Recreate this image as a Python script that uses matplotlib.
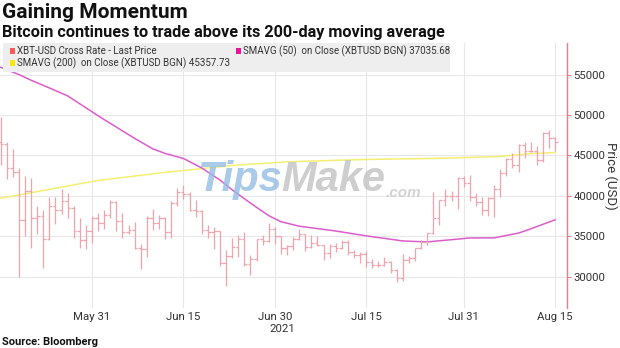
import pandas as pd
import matplotlib
matplotlib.use("Agg")
import matplotlib.pyplot as plt
import matplotlib.dates as mdates
from matplotlib.patches import Rectangle

plt.rcParams['font.family'] = ['Roboto', 'DejaVu Sans']

# daily bars, May 16 - Aug 15 2021
dates = pd.date_range("2021-05-16", "2021-08-15", freq="D")

opens = [46700, 46400, 43500, 42900, 37000, 40600, 37300, 37500, 34700, 38800,
         38300, 39300, 38500, 35700, 34600, 35700, 37300, 36700, 37600, 39200,
         36900, 35500, 35800, 33600, 33400, 37300, 36700, 37300, 35500, 39100,
         40500, 40200, 38300, 38100, 35800, 35500, 35600, 31700, 32500, 33700,
         34700, 31600, 32200, 34700, 34400, 35900, 35000, 33500, 33800, 34700,
         35300, 33700, 34200, 33900, 32900, 33800, 33500, 34300, 33100, 32700,
         32800, 31800, 31400, 31500, 31800, 30800, 29800, 32100, 32300, 33600,
         34300, 35400, 37300, 39500, 40000, 40000, 42200, 41600, 39900, 39200,
         38200, 39700, 40900, 42800, 44600, 43800, 46300, 45600, 45600, 44400,
         47800, 47100]
highs = [49800, 46600, 45800, 43500, 42500, 42200, 38800, 38200, 39800, 39800,
         40800, 40400, 38800, 37300, 36400, 37500, 37900, 38200, 39500, 39300,
         37900, 36400, 36800, 34000, 37500, 38400, 37600, 37400, 39300, 41000,
         41300, 40500, 39500, 38200, 36400, 36100, 35700, 33300, 34800, 35200,
         35500, 32700, 34700, 35200, 36600, 36100, 35000, 33900, 34900, 35900,
         35300, 35100, 35000, 33900, 34100, 34200, 34600, 34600, 33300, 33100,
         33200, 32200, 31900, 32400, 31900, 31000, 32800, 32600, 33600, 34500,
         35400, 40500, 39500, 40900, 40600, 42300, 42400, 42600, 40400, 39800,
         39900, 41400, 43300, 44700, 45300, 46400, 46700, 46700, 46200, 47900,
         48100, 47300]
lows = [43800, 42100, 42300, 30000, 35000, 33500, 35300, 31100, 34500, 36500,
        37800, 37200, 34800, 33600, 33400, 34200, 35700, 35900, 37200, 35600,
        34800, 35300, 33400, 31000, 32400, 35800, 35900, 34700, 34800, 38800,
        39600, 38100, 37400, 35300, 34800, 33400, 31300, 28800, 32300, 32400,
        31300, 30200, 32000, 33900, 34300, 34000, 32800, 32700, 33300, 34500,
        33200, 33600, 33800, 32100, 32300, 33000, 33400, 32700, 32300, 31700,
        31200, 31100, 31200, 31300, 30500, 29300, 29500, 31700, 32000, 33400,
        33900, 35300, 36400, 38800, 39300, 38400, 41100, 39400, 38700, 37600,
        37500, 37400, 39900, 42500, 43500, 42900, 44700, 45400, 43800, 44200,
        45900, 45600]
closes = [46400, 43500, 42900, 37000, 40600, 37300, 37500, 34700, 38800, 38300,
          39300, 38500, 35700, 34600, 35700, 37300, 36700, 37600, 39200, 36900,
          35500, 35800, 33600, 33400, 37300, 36700, 37300, 35500, 39100, 40500,
          40200, 38300, 38100, 35800, 35500, 35600, 31700, 32500, 33700, 34700,
          31600, 32200, 34700, 34400, 35900, 35000, 33500, 33800, 34700, 35300,
          33700, 34200, 33900, 32900, 33800, 33500, 34300, 33100, 32700, 32800,
          31800, 31400, 31500, 31800, 30800, 29800, 32100, 32300, 33600, 34300,
          35400, 37300, 39500, 40000, 40000, 42200, 41600, 39900, 39200, 38200,
          39700, 40900, 42800, 44600, 43800, 46300, 45600, 45600, 44400, 47800,
          47100, 46700]

sma50 = [55900, 55600, 55300, 55000, 54650, 54300, 53980, 53660, 53340, 53020,
         52690, 52360, 51870, 51380, 50890, 50400, 49900, 49430, 48970, 48500,
         48030, 47570, 47100, 46670, 46230, 45800, 45520, 45250, 45040, 44830,
         44620, 44230, 43840, 43450, 42950, 42450, 41950, 41350, 40750, 40200,
         39650, 39100, 38580, 38070, 37550, 37180, 36800, 36620, 36430, 36250,
         36150, 36050, 35950, 35850, 35750, 35650, 35530, 35410, 35290, 35170,
         35050, 34950, 34840, 34740, 34630, 34530, 34420, 34390, 34360, 34330,
         34300, 34370, 34440, 34510, 34580, 34650, 34720, 34790, 34790, 34795,
         34800, 34800, 34950, 35100, 35250, 35400, 35650, 35920, 36200, 36480,
         36760, 37036]
sma200 = [39700, 39840, 39980, 40110, 40250, 40390, 40520, 40660, 40800, 40940,
          41080, 41210, 41350, 41490, 41630, 41760, 41900, 41990, 42080, 42170,
          42260, 42350, 42450, 42540, 42630, 42720, 42810, 42900, 42980, 43060,
          43130, 43210, 43290, 43370, 43450, 43530, 43600, 43680, 43760, 43810,
          43860, 43910, 43960, 44000, 44050, 44100, 44150, 44200, 44230, 44250,
          44270, 44300, 44320, 44340, 44370, 44390, 44410, 44430, 44460, 44480,
          44500, 44510, 44520, 44530, 44540, 44560, 44570, 44580, 44590, 44600,
          44610, 44620, 44640, 44660, 44680, 44710, 44730, 44750, 44770, 44790,
          44820, 44840, 44860, 44930, 45010, 45080, 45160, 45230, 45260, 45290,
          45330, 45358]

tick_dates = ["2021-05-31", "2021-06-15", "2021-06-30", "2021-07-15", "2021-07-31", "2021-08-15"]
tick_labels = ["May 31", "Jun 15", "Jun 30", "Jul 15", "Jul 31", "Aug 15"]
y_ticks = [30000, 35000, 40000, 45000, 50000, 55000]

bar_color = '#f2a3ac'
sma50_color = '#dd5ccb'
sma200_color = '#f4ef72'
spine_color = '#f07a8a'

W, H = 620, 348
fig = plt.figure(figsize=(W / 100, H / 100), dpi=100)
ax = fig.add_axes([0, 1 - 308 / H, 567 / W, (308 - 43) / H])

x = mdates.date2num(dates)
ax.plot(x, sma200, color=sma200_color, lw=1.1, zorder=2)
ax.plot(x, sma50, color=sma50_color, lw=1.1, zorder=2)
ax.vlines(x, lows, highs, color=bar_color, lw=0.9, zorder=3)
ax.hlines(opens, x - 0.45, x, color=bar_color, lw=0.9, zorder=3)
ax.hlines(closes, x, x + 0.45, color=bar_color, lw=0.9, zorder=3)

ax.set_xlim(x[0] - 0.1, x[-1] + 1.95)
ax.set_ylim(26130, 58900)

ax.set_xticks(mdates.date2num(pd.to_datetime(tick_dates)))
ax.set_xticklabels(tick_labels)
ax.set_yticks(y_ticks)
ax.set_yticklabels([str(v) for v in y_ticks])
ax.yaxis.tick_right()

ax.grid(True, color='#e8e8e8', lw=0.8, zorder=0)
ax.set_axisbelow(True)
ax.tick_params(axis='x', length=0, labelsize=8.2, colors='#333333', pad=3)
ax.tick_params(axis='y', length=3, color=spine_color, labelsize=8.2,
               labelcolor='#333333', pad=1.5)
for s in ['top', 'left', 'bottom']:
    ax.spines[s].set_visible(False)
ax.spines['right'].set_color(spine_color)
ax.spines['right'].set_linewidth(1.0)

ax.text(mdates.date2num(pd.Timestamp("2021-06-30")) + 1.3, -0.079, '2021',
        transform=ax.get_xaxis_transform(), ha='center', va='center',
        fontsize=8.2, color='#333333')

def px(xp, yp):
    return xp / W, 1 - yp / H

# y axis title on the right
fig.text(*px(611, 176), 'Price (USD)', rotation=270, fontsize=9.5, color='#333333',
         ha='center', va='center')

# watermark
wm = fig.text(197 / W, 1 - 191 / H, 'Tips', color='#94bde4', fontsize=30, fontweight='bold',
              style='italic', alpha=0.8, family=['Liberation Sans'], va='baseline', zorder=5)
wm2 = ax.annotate('Make', xy=(1, 0), xycoords=wm, ha='left', va='bottom', color='#c2c2c2',
                  fontsize=30, fontweight='bold', style='italic', alpha=0.8,
                  family=['Liberation Sans'], zorder=5, annotation_clip=False)
ax.annotate('.com', xy=(1, 0), xycoords=wm2, ha='left', va='bottom', color='#c8c8c8',
            fontsize=11, fontweight='bold', style='italic', alpha=0.8,
            family=['Liberation Sans'], zorder=5, annotation_clip=False)

# legend box
fig.patches.append(Rectangle(px(3, 72), 447 / W, 29 / H, transform=fig.transFigure,
                             facecolor='#eeeeee', edgecolor='none', zorder=4))
legend_items = [
    (10, 51, '#ff5a5a', 'XBT-USD Cross Rate - Last Price'),
    (236, 51, '#ee1199', 'SMAVG (50)  on Close (XBTUSD BGN) 37035.68'),
    (10, 63, '#ffe600', 'SMAVG (200)  on Close (XBTUSD BGN) 45357.73'),
]
for lx, ly, c, t in legend_items:
    fig.patches.append(Rectangle(px(lx, ly + 3), 5 / W, 6 / H, transform=fig.transFigure,
                                 facecolor=c, edgecolor='none', zorder=5))
    fig.text(*px(lx + 7, ly), t, fontsize=7, color='#333333', va='center', zorder=6)

fig.text(*px(2, 12), 'Gaining Momentum', fontsize=15, fontweight='bold',
         color='#111111', va='center')
fig.text(*px(2, 32), 'Bitcoin continues to trade above its 200-day moving average',
         fontsize=11.7, fontweight='bold', color='#111111', va='center')
fig.text(*px(2, 342), 'Source: Bloomberg', fontsize=8, fontweight='bold',
         color='#111111', va='center')

fig.savefig('out.png', dpi=100)
